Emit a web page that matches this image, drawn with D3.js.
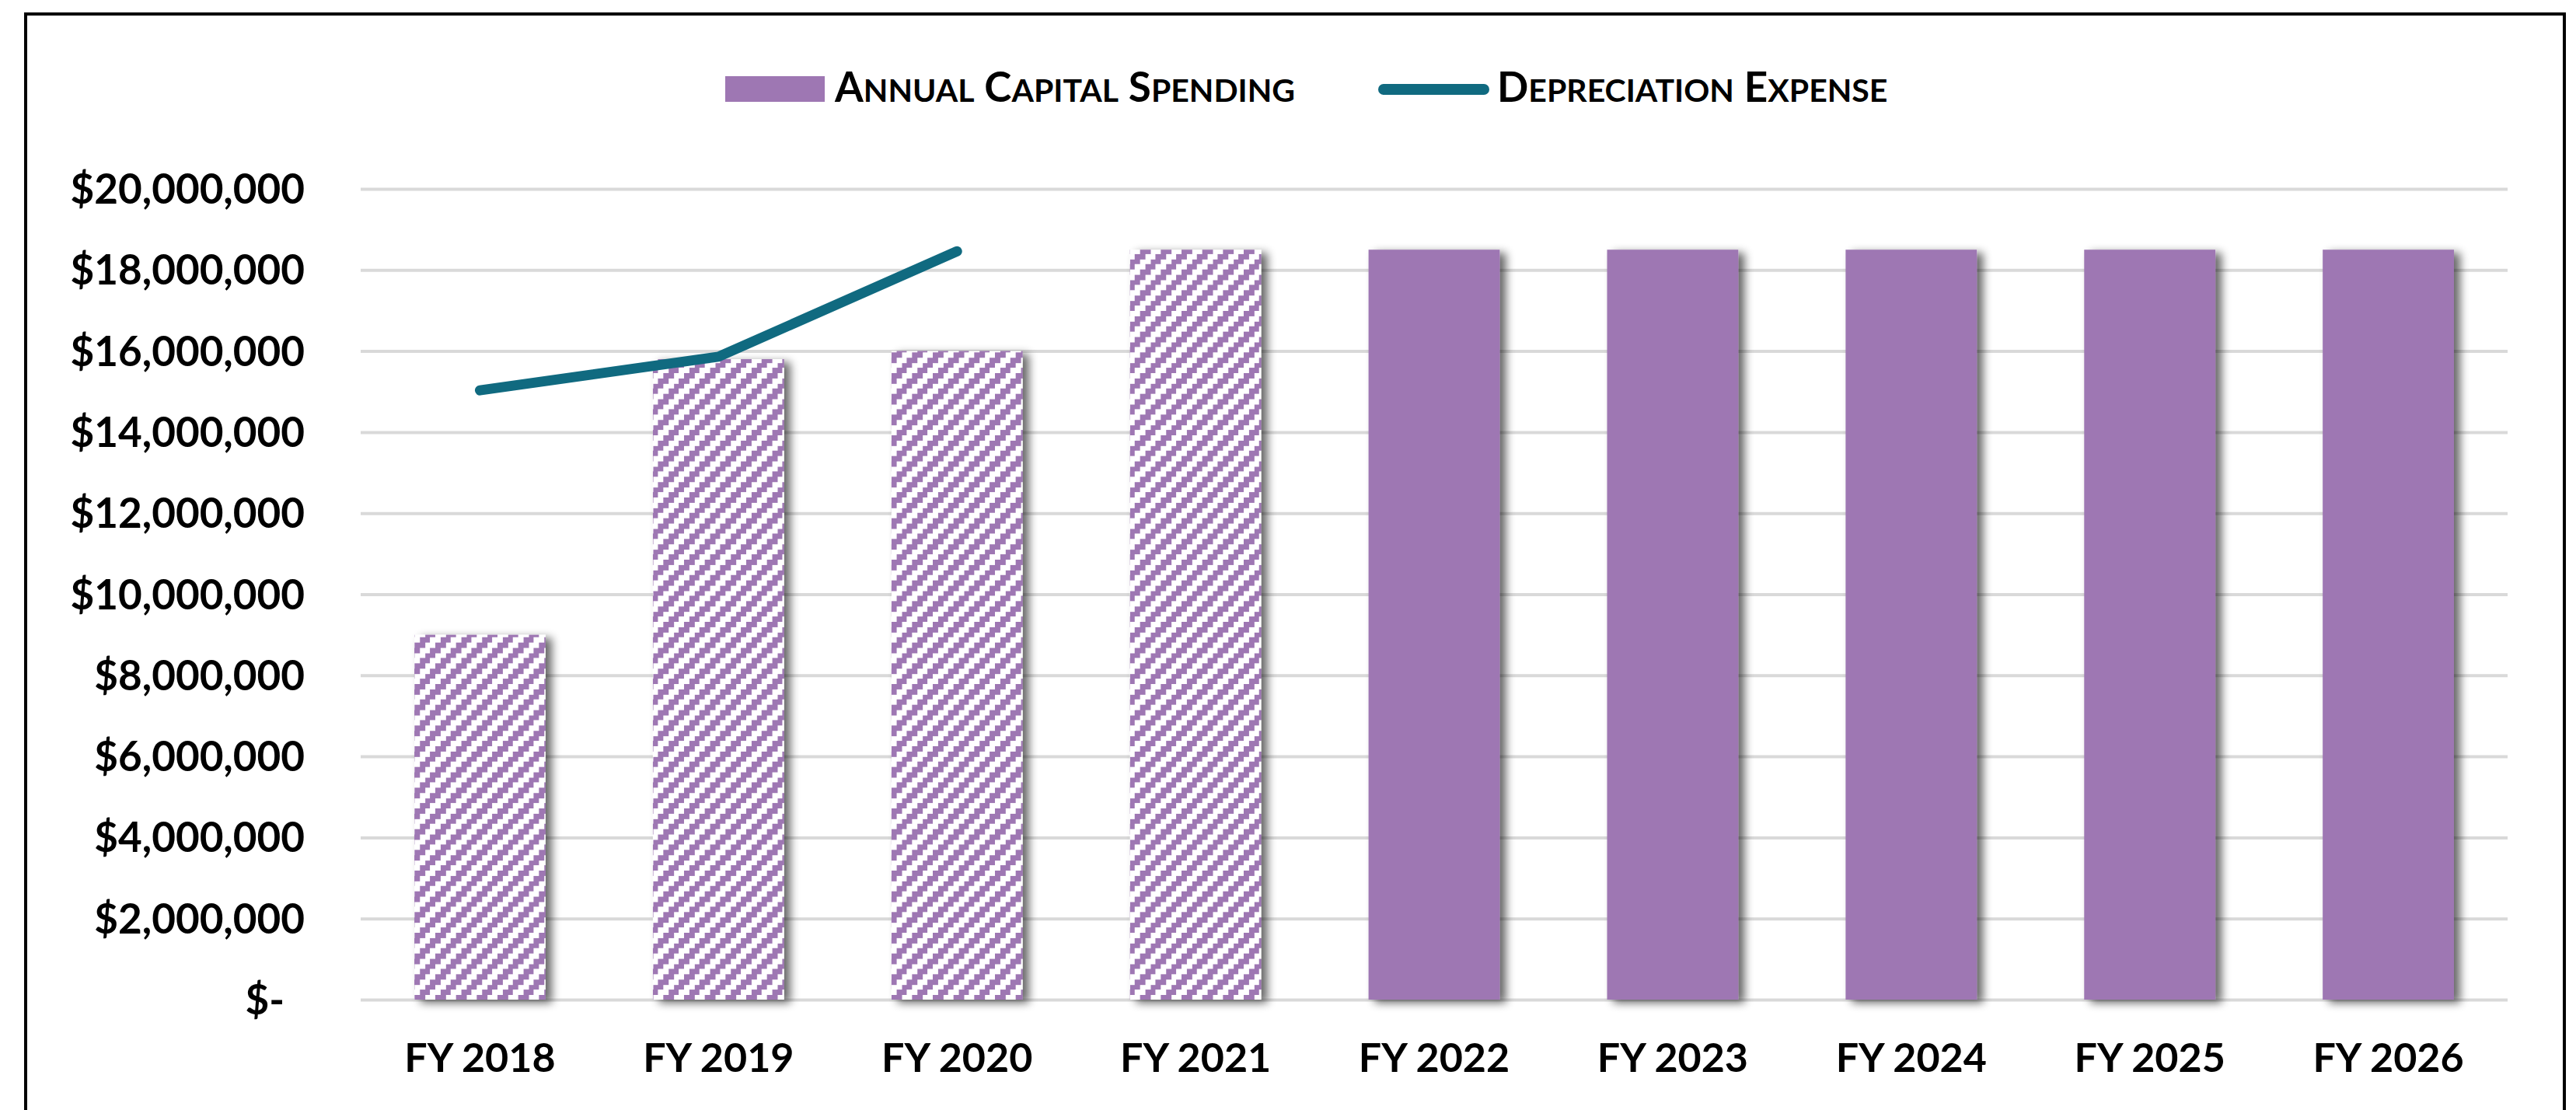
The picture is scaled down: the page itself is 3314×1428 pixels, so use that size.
<!DOCTYPE html>
<html>
<head>
<meta charset="utf-8">
<script src="https://cdn.jsdelivr.net/npm/d3@7"></script>
<style>
  html, body { margin: 0; padding: 0; background: #ffffff; }
  svg { display: block; }
  text { font-family: Lato, "Open Sans", sans-serif; font-weight: 700; fill: #000; }
</style>
</head>
<body>
<svg id="chart" width="3314" height="1428"></svg>
<script>
// Fiscal years shown on the category axis
const categories = ["FY 2018", "FY 2019", "FY 2020", "FY 2021", "FY 2022", "FY 2023", "FY 2024", "FY 2025", "FY 2026"];
// Annual capital spending per year (dollars)
const capitalSpending = [9000000, 15800000, 16000000, 18500000, 18500000, 18500000, 18500000, 18500000, 18500000];
// Depreciation expense (dollars); later years not reported
const depreciationExpense = [15030000, 15860000, 18460000, null, null, null, null, null, null];
// Years reported as historical figures (drawn hatched)
const historicalYears = ["FY 2018", "FY 2019", "FY 2020", "FY 2021"];
// Value axis ticks
const yTicks = [0, 2000000, 4000000, 6000000, 8000000, 10000000, 12000000, 14000000, 16000000, 18000000, 20000000];
// Legend entries
const seriesNames = ["Annual Capital Spending", "Depreciation Expense"];

const BAR = "#9e77b3";
const LINE = "#106a80";
const GRID = "#d9d9d9";

const svg = d3.select("#chart");
const defs = svg.append("defs");

// Drop shadow cast by the columns
const shadow = defs.append("filter").attr("id", "colShadow")
  .attr("x", "-20%").attr("y", "-10%").attr("width", "160%").attr("height", "130%");
shadow.append("feGaussianBlur").attr("in", "SourceAlpha").attr("stdDeviation", 6).attr("result", "blur");
shadow.append("feOffset").attr("in", "blur").attr("dx", 8).attr("dy", 4).attr("result", "off");
shadow.append("feComponentTransfer").attr("in", "off").attr("result", "soft")
  .append("feFuncA").attr("type", "linear").attr("slope", 0.6);
const merge = shadow.append("feMerge");
merge.append("feMergeNode").attr("in", "soft");
merge.append("feMergeNode").attr("in", "SourceGraphic");

// Wide upward-diagonal hatch (stepped, like a pixel pattern)
const cell = 20 / 3;
const cells = 4;
const hatch = defs.append("pattern").attr("id", "hatch")
  .attr("patternUnits", "userSpaceOnUse")
  .attr("width", cell * cells).attr("height", cell * cells);
hatch.append("rect").attr("width", cell * cells).attr("height", cell * cells).attr("fill", "#ffffff");
const hatchCells = [];
for (let j = 0; j < cells; j++) {
  for (let i = 0; i < cells; i++) {
    if ((i + j) % cells < 2) hatchCells.push([i, j]);
  }
}
hatch.selectAll("rect.c").data(hatchCells).join("rect")
  .attr("class", "c")
  .attr("x", d => d[0] * cell).attr("y", d => d[1] * cell)
  .attr("width", cell + 0.02).attr("height", cell + 0.02)
  .attr("fill", BAR).attr("shape-rendering", "crispEdges");

// Plot area
const plot = { left: 464, right: 3226, top: 243, bottom: 1286 };

const x = d3.scaleBand()
  .domain(categories)
  .range([plot.left, plot.right])
  .paddingInner(0.45)
  .paddingOuter(0.225);

const y = d3.scaleLinear()
  .domain([0, 20000000])
  .range([plot.bottom, plot.top]);

// Outer chart frame
svg.append("rect")
  .attr("x", 33).attr("y", 18)
  .attr("width", 3266).attr("height", 1440)
  .attr("fill", "none").attr("stroke", "#000").attr("stroke-width", 4);

// Horizontal gridlines
const yAxis = d3.axisLeft(y)
  .tickValues(yTicks)
  .tickSize(-(plot.right - plot.left))
  .tickPadding(72)
  .tickFormat(d => d === 0 ? "$-" : "$" + d3.format(",")(d));

const gy = svg.append("g")
  .attr("transform", `translate(${plot.left},0)`)
  .call(yAxis);
gy.select(".domain").remove();
gy.selectAll(".tick line").attr("stroke", GRID).attr("stroke-width", 4);
gy.selectAll(".tick text")
  .attr("font-size", 53)
  .attr("font-family", "Lato, sans-serif")
  .attr("font-weight", 700)
  .attr("fill", "#000")
  .attr("dy", "0.35em");
gy.selectAll(".tick").filter(d => d === 0).select("text").attr("dx", -26);

// Columns
const barData = categories.map((c, i) => ({ cat: c, value: capitalSpending[i] }));
svg.append("g").selectAll("rect").data(barData).join("rect")
  .attr("x", d => x(d.cat))
  .attr("y", d => y(d.value))
  .attr("width", x.bandwidth())
  .attr("height", d => y(0) - y(d.value))
  .attr("fill", d => historicalYears.includes(d.cat) ? "url(#hatch)" : BAR)
  .attr("filter", "url(#colShadow)");

// Depreciation line
const lineData = categories.map((c, i) => ({ cat: c, value: depreciationExpense[i] }));
const line = d3.line()
  .defined(d => d.value != null)
  .x(d => x(d.cat) + x.bandwidth() / 2)
  .y(d => y(d.value));
svg.append("path")
  .datum(lineData)
  .attr("d", line)
  .attr("fill", "none")
  .attr("stroke", LINE)
  .attr("stroke-width", 13)
  .attr("stroke-linecap", "round")
  .attr("stroke-linejoin", "round");

// Category axis labels
const xAxis = d3.axisBottom(x).tickSize(0).tickPadding(56);
const gx = svg.append("g")
  .attr("transform", `translate(0,${plot.bottom})`)
  .call(xAxis);
gx.select(".domain").remove();
gx.selectAll(".tick text")
  .attr("font-size", 52)
  .attr("font-family", "Lato, sans-serif")
  .attr("font-weight", 700)
  .attr("fill", "#000");

// Legend with small-caps labels
function smallCaps(textSel, label, big, small) {
  label.split(" ").forEach((word, wi) => {
    textSel.append("tspan").attr("font-size", big).text((wi > 0 ? " " : "") + word[0].toUpperCase());
    textSel.append("tspan").attr("font-size", small).text(word.slice(1).toUpperCase());
  });
}

const legend = svg.append("g");
legend.append("rect")
  .attr("x", 933).attr("y", 98).attr("width", 128).attr("height", 33)
  .attr("fill", BAR);
const t1 = legend.append("text").attr("x", 1074).attr("y", 131).attr("xml:space", "preserve");
smallCaps(t1, seriesNames[0], 53, 41);

legend.append("line")
  .attr("x1", 1780).attr("x2", 1909).attr("y1", 115).attr("y2", 115)
  .attr("stroke", LINE).attr("stroke-width", 14).attr("stroke-linecap", "round");
const t2 = legend.append("text").attr("x", 1926).attr("y", 131).attr("xml:space", "preserve");
smallCaps(t2, seriesNames[1], 53, 41);
</script>
</body>
</html>
